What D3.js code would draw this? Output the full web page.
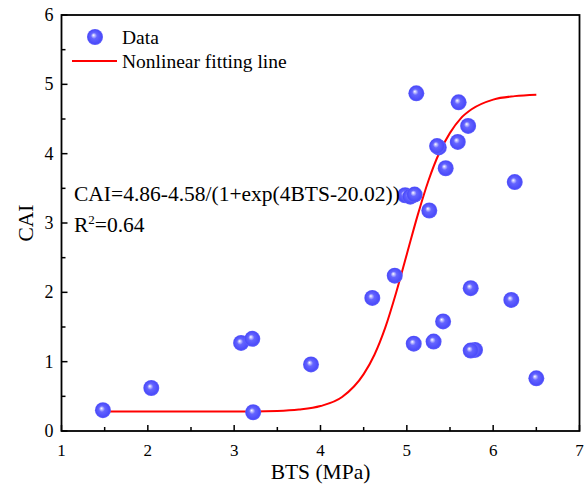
<!DOCTYPE html>
<html>
<head>
<meta charset="utf-8">
<script src="https://cdn.jsdelivr.net/npm/d3@7"></script>
<style>
  body { margin: 0; background: #fff; }
  text { font-family: "Liberation Serif", "Times New Roman", serif; fill: #000; }
</style>
</head>
<body>
<div id="chart"></div>
<script>
// measured data (BTS in MPa, CAI)
const btsValues = [1.48, 2.04, 3.08, 3.21, 3.22, 3.89, 4.60, 4.86, 4.98, 5.04, 5.09,
  5.08, 5.11, 5.26, 5.31, 5.37, 5.35, 5.42, 5.45, 5.59, 5.60, 5.71, 5.74, 5.79, 5.74, 6.21, 6.25, 6.50];
const caiValues = [0.30, 0.62, 1.27, 1.33, 0.27, 0.96, 1.92, 2.24, 3.40, 3.38, 3.41,
  1.26, 4.87, 3.18, 1.29, 4.09, 4.11, 1.58, 3.79, 4.17, 4.74, 4.40, 2.06, 1.17, 1.16, 1.89, 3.59, 0.76];

// fitting line
const fitX = [1.5, 2, 2.5, 3, 3.5, 3.75, 4, 4.25, 4.5, 4.625, 4.75, 4.875, 5, 5.125,
  5.25, 5.375, 5.5, 5.625, 5.75, 6, 6.25, 6.5];
const fitY = [0.28, 0.28, 0.28, 0.28, 0.29, 0.31, 0.36, 0.49, 0.82, 1.10, 1.49, 1.99, 2.55, 3.11,
  3.61, 4.01, 4.30, 4.51, 4.64, 4.78, 4.83, 4.85];

const xTicks = [1, 2, 3, 4, 5, 6, 7];
const yTicks = [0, 1, 2, 3, 4, 5, 6];
const equationText = "CAI=4.86-4.58/(1+exp(4BTS-20.02))";

const width = 588,
  height = 490,
  margin = { top: 15, right: 8.5, bottom: 59, left: 61.5 };

const svg = d3.select("#chart")
  .append("svg")
  .attr("width", width)
  .attr("height", height);

const xScale = d3.scaleLinear()
  .domain([1, 7])
  .range([margin.left, width - margin.right]);

const yScale = d3.scaleLinear()
  .domain([0, 6])
  .range([height - margin.bottom, margin.top]);

// sphere look for the markers
const defs = svg.append("defs");
const grad = defs.append("radialGradient")
  .attr("id", "ball")
  .attr("cx", "50%").attr("cy", "50%").attr("r", "50%")
  .attr("fx", "40%").attr("fy", "38%");
grad.append("stop").attr("offset", "0%").attr("stop-color", "#ffffff");
grad.append("stop").attr("offset", "14%").attr("stop-color", "#c4c4ff");
grad.append("stop").attr("offset", "38%").attr("stop-color", "#6464ff");
grad.append("stop").attr("offset", "85%").attr("stop-color", "#4c4cfa");
grad.append("stop").attr("offset", "100%").attr("stop-color", "#6262fa");

// minor ticks at halves
const minor = d3.range(1.5, 7, 1);
const minorY = d3.range(0.5, 6, 1);

// + AXES (ticks point inward)
const xAxis = svg.append("g")
  .attr("transform", `translate(0,${yScale(0)})`);
xAxis.selectAll("line.major")
  .data(xTicks)
  .join("line")
  .attr("x1", d => xScale(d)).attr("x2", d => xScale(d))
  .attr("y1", 0).attr("y2", -6)
  .attr("stroke", "#000").attr("stroke-width", 1.5);
xAxis.selectAll("line.minor")
  .data(minor)
  .join("line")
  .attr("x1", d => xScale(d)).attr("x2", d => xScale(d))
  .attr("y1", 0).attr("y2", -4)
  .attr("stroke", "#000").attr("stroke-width", 1.5);
xAxis.selectAll("text")
  .data(xTicks)
  .join("text")
  .attr("x", d => xScale(d))
  .attr("y", 25)
  .attr("text-anchor", "middle")
  .attr("font-size", 17)
  .text(d => d);

const yAxis = svg.append("g")
  .attr("transform", `translate(${xScale(1)},0)`);
yAxis.selectAll("line.major")
  .data(yTicks)
  .join("line")
  .attr("y1", d => yScale(d)).attr("y2", d => yScale(d))
  .attr("x1", 0).attr("x2", 6)
  .attr("stroke", "#000").attr("stroke-width", 1.5);
yAxis.selectAll("line.minor")
  .data(minorY)
  .join("line")
  .attr("y1", d => yScale(d)).attr("y2", d => yScale(d))
  .attr("x1", 0).attr("x2", 4)
  .attr("stroke", "#000").attr("stroke-width", 1.5);
yAxis.selectAll("text")
  .data(yTicks)
  .join("text")
  .attr("x", -8)
  .attr("y", d => yScale(d) + 6)
  .attr("text-anchor", "end")
  .attr("font-size", 18)
  .text(d => d);

// frame
svg.append("rect")
  .attr("x", xScale(1))
  .attr("y", yScale(6))
  .attr("width", xScale(7) - xScale(1))
  .attr("height", yScale(0) - yScale(6))
  .attr("fill", "none")
  .attr("stroke", "#000")
  .attr("stroke-width", 1.8);

// axis titles
svg.append("text")
  .attr("x", (xScale(1) + xScale(7)) / 2)
  .attr("y", 479)
  .attr("text-anchor", "middle")
  .attr("font-size", 21.5)
  .text("BTS (MPa)");

svg.append("text")
  .attr("transform", `translate(33,${(yScale(0) + yScale(6)) / 2}) rotate(-90)`)
  .attr("text-anchor", "middle")
  .attr("font-size", 21.5)
  .text("CAI");

// + FIT LINE
const fitData = fitX.map((x, i) => ({ x, y: fitY[i] }));
const lineFunc = d3.line()
  .x(d => xScale(d.x))
  .y(d => yScale(d.y))
  .curve(d3.curveMonotoneX);

svg.append("path")
  .datum(fitData)
  .attr("d", lineFunc)
  .attr("fill", "none")
  .attr("stroke", "#ff0000")
  .attr("stroke-width", 2);

// + POINTS
const points = btsValues.map((x, i) => ({ x, y: caiValues[i] }));
svg.selectAll("circle.dot")
  .data(points)
  .join("circle")
  .attr("class", "dot")
  .attr("cx", d => xScale(d.x))
  .attr("cy", d => yScale(d.y))
  .attr("r", 8)
  .attr("fill", "url(#ball)");

// equation
svg.append("text")
  .attr("x", 74)
  .attr("y", 201)
  .attr("font-size", 21.5)
  .text(equationText);

const r2 = svg.append("text")
  .attr("x", 74)
  .attr("y", 232)
  .attr("font-size", 21.5);
r2.append("tspan").text("R");
r2.append("tspan").attr("dy", -8).attr("font-size", 13).text("2");
r2.append("tspan").attr("dy", 8).text("=0.64");

// legend
svg.append("circle")
  .attr("cx", 95)
  .attr("cy", 37)
  .attr("r", 8)
  .attr("fill", "url(#ball)");
svg.append("text")
  .attr("x", 122)
  .attr("y", 44)
  .attr("font-size", 19.5)
  .text("Data");
svg.append("line")
  .attr("x1", 72).attr("x2", 117)
  .attr("y1", 61).attr("y2", 61)
  .attr("stroke", "#ff0000")
  .attr("stroke-width", 2);
svg.append("text")
  .attr("x", 122)
  .attr("y", 68)
  .attr("font-size", 19.5)
  .text("Nonlinear fitting line");
</script>
</body>
</html>
